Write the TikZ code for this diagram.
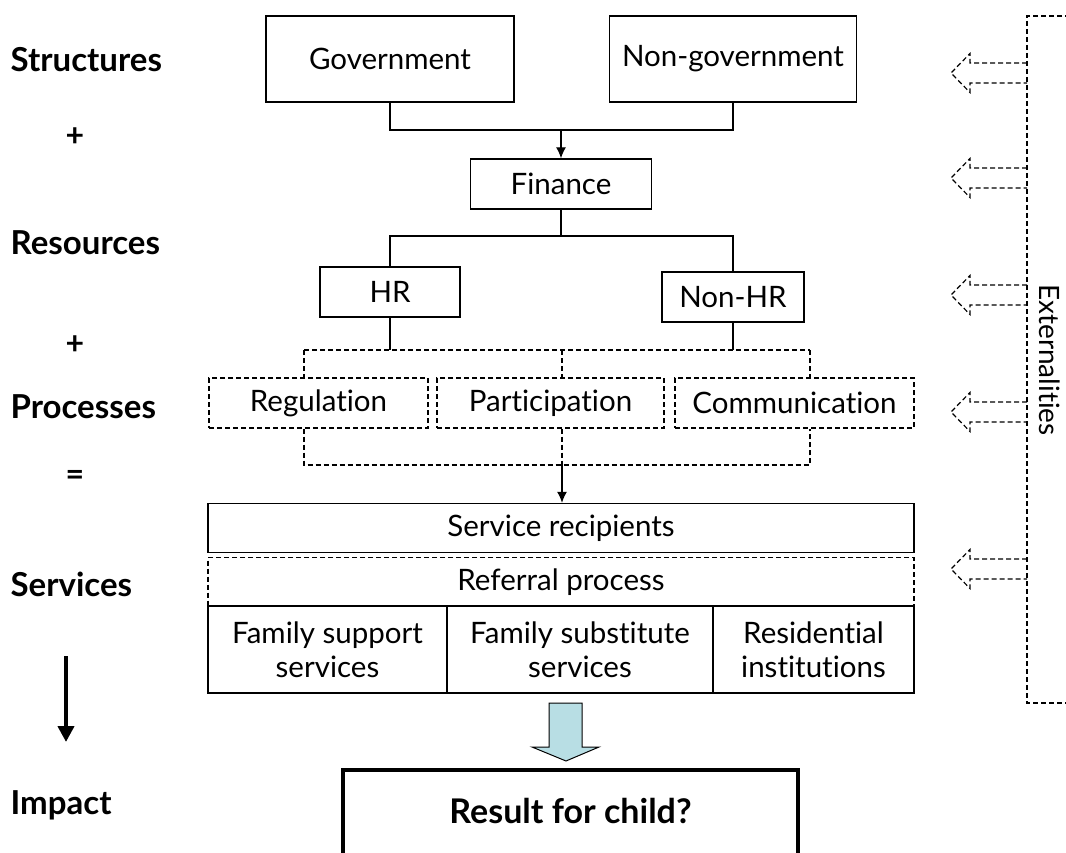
\documentclass[tikz,border=0pt]{standalone}
\usepackage{fontspec}
\setmainfont{Lato}[Ligatures=NoCommon]
\usetikzlibrary{arrows.meta}

\definecolor{arrowblue}{RGB}{184,222,228}

\begin{document}
\begin{tikzpicture}[
            x=1pt, y=-1pt, line width=1.3pt,
        box/.style={draw,rectangle,inner sep=0pt,minimum height=50pt,align=center,
                    font=\fontsize{29.5}{34}\selectfont},
        dashbox/.style={box,dash pattern=on 5pt off 3pt},
        dashline/.style={dash pattern=on 5pt off 3pt},
        level/.style={anchor=west,inner sep=0pt,font=\fontsize{33}{36}\selectfont\bfseries},
        sign/.style={inner sep=0pt,font=\fontsize{32}{36}\selectfont\bfseries},
        tip/.style={-{Latex[length=11pt,width=10pt]}}
                                ]
    \useasboundingbox (0,0) rectangle (1066,853);
    \clip (0,0) rectangle (1066,853);

    % levels on the left
    \node[level] (struct) at (10,60) {Structures};
    \node[sign] (plus1) at (75,137) {+};
    \node[level] (resour) at (10,243) {Resources};
    \node[sign] (plus2) at (75,345) {+};
    \node[level] (proc) at (10,407) {Processes};
    \node[sign] (equal) at (75,478) {=};
    \node[level] (serv) at (10,584) {Services};
    \node[level] (impact) at (10,805) {Impact};
    \coordinate (down1) at (66,656);
    \coordinate (down2) at (66,742);
    \draw[line width=4pt,-{Triangle[length=16pt,width=16pt]}] (down1) -- (down2);

    % structures and resources
    \node[box,minimum width=248pt,minimum height=86pt] (gov) at (390,59) {Government};
    \node[box,minimum width=247pt,minimum height=86pt] (nongov) at (733,59) {Non-government};
    \node[box,minimum width=181pt] (finance) at (561,184) {Finance};
    \node[box,minimum width=140pt] (hr) at (390,292) {HR};
    \node[box,minimum width=142pt] (nonhr) at (733,297) {Non-HR};

    \coordinate (j1) at (561,130);
    \coordinate (j2) at (561,236);
    \draw (gov.south) |- (j1) -| (nongov.south);
    \draw[tip] (j1) -- (finance.north);
    \draw (finance.south) -- (j2);
    \draw (hr.north) |- (j2) -| (nonhr.north);

    % processes
    \node[dashbox,minimum width=219pt] (reg) at (318.5,403) {Regulation};
    \node[dashbox,minimum width=227pt] (part) at (550.5,403) {Participation};
    \node[dashbox,minimum width=239pt] (comm) at (794.5,403) {Communication};

    \coordinate (p1) at (304,350);
    \coordinate (p2) at (562,350);
    \coordinate (p3) at (810,350);
    \coordinate (q1) at (304,465);
    \coordinate (q2) at (562,465);
    \coordinate (q3) at (810,465);
    \draw (hr.south) -- (hr.south |- p1);
    \draw (nonhr.south) -- (nonhr.south |- p1);
    \draw[dashline] (p1) -- (p3);
    \draw[dashline] (p1) -- (p1 |- reg.north);
    \draw[dashline] (p2) -- (p2 |- part.north);
    \draw[dashline] (p3) -- (p3 |- comm.north);
    \draw[dashline] (p1 |- reg.south) -- (q1) -- (q3) -- (p3 |- comm.south);
    \draw[dashline] (p2 |- part.south) -- (q2);

    % services
    \node[box,minimum width=706pt,minimum height=49pt] (recip) at (561,528) {Service recipients};
    \node[dashbox,minimum width=706pt,minimum height=49pt] (referral) at (561,582) {Referral process};
    \node[box,minimum width=239pt,minimum height=87pt] (famsup) at (327.5,649.5) {Family support\\services};
    \node[box,minimum width=266pt,minimum height=87pt] (famsub) at (580,649.5) {Family substitute\\services};
    \node[box,minimum width=201pt,minimum height=87pt] (resid) at (813.5,649.5) {Residential\\institutions};
    \draw[tip] (q2) -- (recip.north -| q2);

    % impact
    \fill[arrowblue] (549,703) -- (582,703) -- (582,747) -- (599,747) -- (566,761)
        -- (532,747) -- (549,747) -- cycle;
    \draw[line width=1pt] (549,703) -- (582,703) -- (582,747) -- (599,747) -- (566,761)
        -- (532,747) -- (549,747) -- cycle;
    \node[draw,line width=4pt,anchor=base,inner xsep=0pt,inner ysep=0pt,
          minimum width=455pt,text height=53pt,text depth=80pt,
          font=\fontsize{34}{38}\selectfont\bfseries] (result) at (570.5,823) {Result for child?};

    % externalities
    \draw[dashline] (1070,16) -- (1027,16) -- (1027,703) -- (1070,703);
    \node[rotate=-90,inner sep=0pt,font=\fontsize{28}{34}\selectfont] (ext) at (1050,360) {Externalities};
    \foreach \ya in {73,178,295,412,569}
      \draw[dashline,line width=1.2pt] (1027,\ya-10) -- (970,\ya-10) -- (970,\ya-19.5) -- (951,\ya)
        -- (970,\ya+19.5) -- (970,\ya+10) -- (1027,\ya+10);
\end{tikzpicture}
\end{document}
